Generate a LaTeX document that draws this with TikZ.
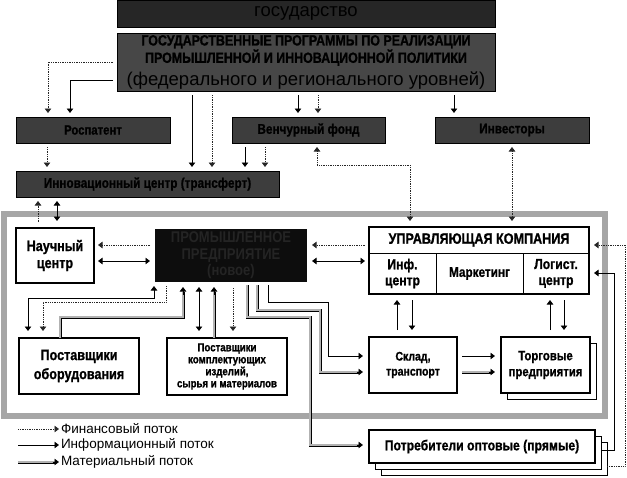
\documentclass[tikz,border=0pt]{standalone}
\usepackage{fontspec}
\setmainfont{Liberation Sans}
\newfontfamily\cb[FakeStretch=0.84]{Liberation Sans Bold}
\newfontfamily\hb[FakeStretch=0.84,FakeBold=1]{Liberation Sans Bold}
\newfontfamily\nb[FakeStretch=0.9]{Liberation Sans Bold}
\usetikzlibrary{arrows.meta}
\newcommand\fs[2]{\fontsize{#1}{#2}\selectfont}
\begin{document}
\begin{tikzpicture}[x=1pt,y=-1pt,
  >={Triangle[width=6.5pt,length=4.5pt]},
  every node/.style={inner sep=0pt,outer sep=0pt,align=center},
  wbox/.style={anchor=north west,draw=black,line width=1.1pt,fill=white},
  dark/.style={anchor=north west,draw=black,line width=0.8pt,fill=black!76,text=black},
  fin/.style={densely dotted,line width=0.75pt,draw=black!85},
  inf/.style={line width=0.8pt,draw=black},
  mat/.style={draw=black,line width=0.7pt,double=black!30,double distance=1.6pt},
  sh/.style={shorten <=4pt,shorten >=4pt}]
\useasboundingbox (0,0) rectangle (627,477);

% frame
\node[anchor=north west,draw=black!35,line width=6pt,minimum width=601pt,minimum height=202pt] (frame) at (4,214) {};

% top boxes
\node[dark,fill=black!85,minimum width=378pt,minimum height=27pt,font=\fs{18.5}{20}] (gos) at (117,0) {государство};
\node[dark,fill=black!72,minimum width=378pt,minimum height=58pt,font=\fs{14.8}{14}] (prog) at (117,33)
  {{\hb ГОСУДАРСТВЕННЫЕ ПРОГРАММЫ ПО РЕАЛИЗАЦИИ}\\{\hb ПРОМЫШЛЕННОЙ И ИННОВАЦИОННОЙ ПОЛИТИКИ}\\[4.5pt]{\fs{18.5}{18}(федерального и регионального уровней)}};
\node[dark,minimum width=154pt,minimum height=26pt,font=\hb\fs{13.5}{15}] (ros) at (16,117) {Роспатент};
\node[dark,minimum width=153pt,minimum height=26pt,font=\hb\fs{14}{15}] (ven) at (232,117) {Венчурный фонд};
\node[dark,minimum width=154pt,minimum height=26pt,font=\hb\fs{14}{15}] (inv) at (435,117) {Инвесторы};
\node[dark,minimum width=263pt,minimum height=26pt,font=\hb\fs{14}{15}] (inn) at (16,171) {Инновационный центр (трансферт)};

% inner boxes
\node[wbox,minimum width=78pt,minimum height=55pt,font=\hb\fs{15}{17}] (nauch) at (16,228) {Научный\\центр};
\node[anchor=north west,draw=black,line width=0.7pt,double=white,double distance=1.4pt,fill=black!95,
  minimum width=154pt,minimum height=55pt] (pp) at (154,228) {};
\node[text=black!86,font=\cb\fs{15.5}{16.5}] (ppt) at (pp.center) {ПРОМЫШЛЕННОЕ\\ПРЕДПРИЯТИЕ\\(новое)};
\node[wbox,line width=2pt,minimum width=220pt,minimum height=67pt] (uk) at (369,227) {};
\node[anchor=north west,draw=black,line width=1pt,minimum width=67pt,minimum height=41pt,font=\hb\fs{14.5}{16}] (ukinf) at (369,253) {Инф.\\центр};
\node[anchor=north west,draw=black,line width=1pt,minimum width=87pt,minimum height=41pt,font=\hb\fs{14}{16}] (ukmar) at (436,253) {Маркетинг};
\node[anchor=north west,draw=black,line width=1pt,minimum width=66pt,minimum height=41pt,font=\hb\fs{14.5}{16}] (uklog) at (523,253) {Логист.\\центр};
\node[font=\hb\fs{15}{16}] (ukh) at (479,240) {УПРАВЛЯЮЩАЯ КОМПАНИЯ};
\draw[line width=2pt] (uk.north west) rectangle (uk.south east);

\node[wbox,minimum width=120pt,minimum height=56pt,font=\hb\fs{15}{19}] (po) at (19,338) {Поставщики\\оборудования};
\node[wbox,minimum width=120pt,minimum height=57pt,font=\hb\fs{11.5}{12}] (pk) at (167,338) {Поставщики\\комплектующих\\изделий,\\сырья и материалов};
\node[wbox,minimum width=88pt,minimum height=56pt,font=\hb\fs{12.5}{15}] (sklad) at (369,337) {Склад,\\транспорт};
\node[wbox,line width=0.9pt,minimum width=89pt,minimum height=56pt] (torgs) at (507,343) {};
\node[wbox,minimum width=89pt,minimum height=56pt,font=\hb\fs{13.5}{16}] (torg) at (501,337) {Торговые\\предприятия};
\node[wbox,line width=0.9pt,minimum width=226pt,minimum height=33pt] (potr3) at (381,442) {};
\node[wbox,line width=0.9pt,minimum width=226pt,minimum height=33pt] (potr2) at (375,436) {};
\node[wbox,minimum width=226pt,minimum height=33pt,font=\hb\fs{14.5}{16}] (potr) at (369,430) {Потребители оптовые (прямые)};

% top connectors
\draw[fin,->,sh] (prog.west) -| (48,0 |- ros.north);
\draw[inf,->,sh] (prog.west |- 0,80) -| (70,0 |- ros.north);
\draw[inf,->,sh] (192,0 |- prog.south) -- (192,0 |- inn.north);
\draw[fin,->,sh] (212,0 |- prog.south) -- (212,0 |- inn.north);
\draw[inf,->,sh] (298,0 |- prog.south) -- (298,0 |- ven.north);
\draw[fin,->,sh] (318,0 |- prog.south) -- (318,0 |- ven.north);
\draw[inf,->,sh] (454,0 |- prog.south) -- (454,0 |- inv.north);
\draw[fin,->,sh] (47,0 |- ros.south) -- (47,0 |- inn.north);
\draw[inf,->,sh] (245,0 |- ven.south) -- (245,0 |- inn.north);
\draw[fin,->,sh] (265,0 |- ven.south) -- (265,0 |- inn.north);
\coordinate (h1) at (38,222);
\coordinate (h2) at (57,221);
\draw[fin,->,shorten >=4pt] (h1) -- (38,0 |- inn.south);
\draw[inf,<->,shorten >=4pt] (h2) -- (57,0 |- inn.south);
\draw[fin,<->,shorten <=4pt,shorten >=6pt] (317,0 |- ven.south) |- (410,165) -- (410,0 |- uk.north);
\draw[fin,<->,shorten <=4pt,shorten >=6pt] (512,0 |- inv.south) -- (512,0 |- uk.north);

% horizontal links
\draw[fin,->,sh] (pp.west |- 0,245) -- (nauch.east |- 0,245);
\draw[inf,<->,sh] (pp.west |- 0,261) -- (nauch.east |- 0,261);
\draw[fin,->,sh] (uk.west |- 0,245) -- (pp.east |- 0,245);
\draw[inf,<->,sh] (uk.west |- 0,261) -- (pp.east |- 0,261);

% UK to warehouses
\draw[inf,->,shorten <=7pt,shorten >=6pt] (397,0 |- sklad.north) -- (397,0 |- ukinf.south);
\draw[inf,->,shorten <=6pt,shorten >=7pt] (412,0 |- ukinf.south) -- (412,0 |- sklad.north);
\draw[inf,->,shorten <=7pt,shorten >=6pt] (550,0 |- torg.north) -- (550,0 |- uklog.south);
\draw[inf,->,shorten <=6pt,shorten >=7pt] (564,0 |- uklog.south) -- (564,0 |- torg.north);
\draw[inf,->,shorten <=5pt,shorten >=6pt] (sklad.east |- 0,356) -- (torg.west |- 0,356);
\draw[mat,shorten <=5pt,shorten >=10.5pt] (sklad.east |- 0,372) -- (torg.west |- 0,372);
\draw[inf,->,shorten <=31.5pt,shorten >=6pt] (sklad.east |- 0,372) -- (torg.west |- 0,372);

% PP lower links
\draw[inf,<->,shorten <=3pt,shorten >=7pt] (pp.south west) |- (28,298) -- (28,0 |- po.north);
\draw[fin,->,shorten <=3pt,shorten >=7pt] (166,0 |- pp.south) |- (43,302) -- (43,0 |- po.north);
\draw[mat,shorten >=8.5pt] (60,0 |- po.north) |- (183,317) -- (183,0 |- pp.south);
\draw[inf,->,shorten <=22.5pt,shorten >=4pt] (183,317) -- (183,0 |- pp.south);
\draw[inf,<->,shorten <=4pt,shorten >=7pt] (199,0 |- pp.south) -- (199,0 |- pk.north);
\draw[mat,shorten >=8.5pt] (214,0 |- pk.north) -- (214,0 |- pp.south);
\draw[inf,->,shorten <=43.5pt,shorten >=4pt] (214,0 |- pk.north) -- (214,0 |- pp.south);
\draw[fin,->,shorten <=5pt,shorten >=7pt] (233,0 |- pp.south) -- (233,0 |- pk.north);

\draw[inf,->,shorten <=2pt,shorten >=6pt] (268,0 |- pp.south) |- (328,302) |- (sklad.west |- 0,356);
\draw[mat,shorten <=2pt,shorten >=10.5pt] (257,0 |- pp.south) |- (320,310) |- (sklad.west |- 0,372);
\draw[inf,->,shorten <=36.5pt,shorten >=6pt] (320,372) -- (sklad.west |- 0,372);
\draw[mat,shorten <=2pt,shorten >=10.5pt] (247,0 |- pp.south) |- (310,317) |- (potr.west |- 0,445);
\draw[inf,->,shorten <=46.5pt,shorten >=6pt] (310,445) -- (potr.west |- 0,445);

% right side
\draw[inf,->,shorten >=5pt] (potr2.east |- 0,450) -| (614,273) -- (uk.east |- 0,273);
\draw[fin,->,shorten >=5pt] (potr3.east |- 0,466) -| (625,245) -- (uk.east |- 0,245);

% legend
\node[anchor=west,font=\fs{13.5}{15}] (lt1) at (61,429) {Финансовый поток};
\node[anchor=west,font=\fs{13.5}{15}] (lt2) at (61,445) {Информационный поток};
\node[anchor=west,font=\fs{13.5}{15}] (lt3) at (61,462) {Материальный поток};
\coordinate (l1) at (18,429);
\coordinate (l2) at (18,445);
\coordinate (l3) at (18,462);
\draw[fin,->,shorten >=2pt] (l1) -- (lt1.west);
\draw[inf,->,shorten >=2pt] (l2) -- (lt2.west);
\draw[mat,shorten >=6.5pt] (l3) -- (lt3.west);
\draw[inf,->,shorten <=34.5pt,shorten >=2pt] (l3) -- (lt3.west);
\end{tikzpicture}
\end{document}
